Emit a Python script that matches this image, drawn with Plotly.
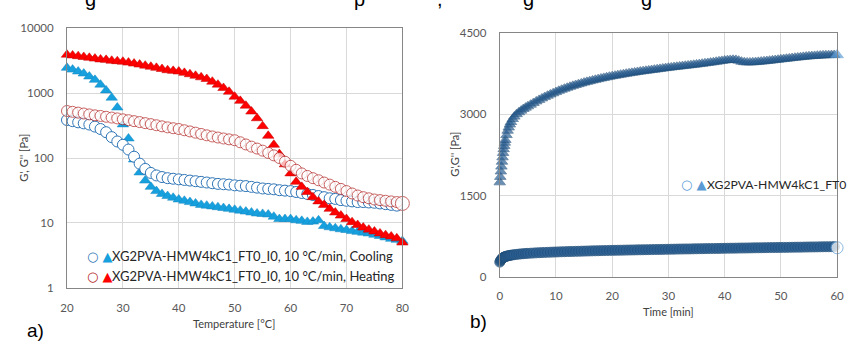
import plotly.graph_objects as go

# ---------------- data: a) temperature sweep ----------------
temp_c = [20, 21, 22, 23, 24, 25, 26, 27, 28, 29, 30, 31, 32, 33, 34, 35, 36, 37, 38, 39,
          40, 41, 42, 43, 44, 45, 46, 47, 48, 49, 50, 51, 52, 53, 54, 55, 56, 57, 58, 59,
          60, 61, 62, 63, 64, 65, 66, 67, 68, 69, 70, 71, 72, 73, 74, 75, 76, 77, 78, 79, 80]

cool_gp = [2450, 2300, 2150, 2000, 1800, 1600, 1350, 1100, 850, 600, 330, 200, 95, 60, 45, 36, 31, 28, 26, 24.5,
           23, 22, 21, 20, 19, 18.5, 18, 17.5, 17, 16.5, 16, 15.5, 15, 14.5, 14, 13.8, 13.5, 12.5, 11.5, 11.5,
           11.5, 11, 10.8, 10.4, 10.5, 11, 9, 8.6, 8.3, 8, 7.8, 7.5, 7.3, 7.1, 6.9, 6.6, 6.3, 6, 5.7, 5.5, 5.3]

cool_gpp = [385, 370, 355, 342, 328, 305, 280, 250, 210, 180, 160, 135, 105, 82, 68, 59, 54, 51, 49, 48,
            47, 46, 45, 44, 43, 42, 41, 40, 39.5, 39, 38, 37.5, 37, 36, 35, 34, 33.5, 33, 32, 31.5,
            31, 30, 29, 28, 27, 26, 25, 24, 23.5, 22.5, 22, 21.5, 21, 21, 20.7, 20.5, 20, 19.5, 19, 18.5, 18]

heat_gp = [3900, 3800, 3700, 3600, 3500, 3400, 3300, 3250, 3150, 3100, 3050, 2950, 2850, 2750, 2650, 2550, 2450, 2350, 2250, 2200,
           2150, 2050, 1950, 1850, 1750, 1650, 1500, 1350, 1200, 1050, 880, 760, 640, 520, 410, 310, 220, 160, 115, 80,
           58, 43, 36, 30, 25, 21.5, 19, 16.5, 14.5, 13, 11.5, 10.3, 9.3, 8.5, 7.9, 7.4, 6.9, 6.5, 6.2, 5.8, 5]

heat_gpp = [530, 515, 500, 485, 470, 455, 445, 432, 420, 408, 395, 383, 370, 358, 345, 333, 320, 308, 297, 288,
            280, 268, 257, 246, 235, 224, 215, 207, 200, 194, 188, 175, 162, 150, 140, 130, 120, 110, 100, 88,
            76, 66, 58, 53, 49, 45.5, 42, 39, 36, 33.5, 31, 28.5, 26.5, 25, 24, 23, 22.5, 22, 21.5, 21, 20]

temp_ticks = [20, 30, 40, 50, 60, 70, 80]
mod_ticks_log = [1, 10, 100, 1000, 10000]

# ---------------- data: b) time sweep ----------------
time_min = [0, 0.1, 0.2, 0.3, 0.4, 0.5, 0.6, 0.7, 0.8, 0.9, 1.0, 1.2, 1.4, 1.6, 1.8, 2.0, 2.3, 2.6, 3.0, 3.4,
            3.8, 4.2, 4.6, 5.0, 5.5, 6, 6.5, 7, 7.5, 8, 8.5, 9, 9.5, 10,
            10.5, 11, 11.5, 12, 12.5, 13, 13.5, 14, 14.5, 15, 15.5, 16, 16.5, 17, 17.5, 18, 18.5, 19, 19.5, 20,
            20.5, 21, 21.5, 22, 22.5, 23, 23.5, 24, 24.5, 25, 25.5, 26, 26.5, 27, 27.5, 28, 28.5, 29, 29.5, 30,
            30.5, 31, 31.5, 32, 32.5, 33, 33.5, 34, 34.5, 35, 35.5, 36, 36.5, 37, 37.5, 38, 38.5, 39, 39.5, 40,
            40.5, 41, 41.5, 42, 42.5, 43, 43.5, 44, 44.5, 45, 45.5, 46, 46.5, 47, 47.5, 48, 48.5, 49, 49.5, 50,
            50.5, 51, 51.5, 52, 52.5, 53, 53.5, 54, 54.5, 55, 55.5, 56, 56.5, 57, 57.5, 58, 58.5, 59, 59.5, 60]

gp_time = [1750, 1850, 1950, 2040, 2130, 2210, 2290, 2360, 2420, 2480, 2530, 2620, 2700, 2760, 2815, 2860, 2915, 2960, 3005, 3040,
           3070, 3100, 3125, 3150, 3180, 3210, 3240, 3268, 3295, 3320, 3345, 3368, 3390, 3412,
           3435, 3455, 3474, 3492, 3509, 3526, 3542, 3557, 3572, 3586, 3600, 3613, 3626, 3638, 3650, 3662, 3673, 3684, 3695, 3705,
           3714, 3723, 3732, 3741, 3750, 3758, 3766, 3774, 3782, 3790, 3797, 3804, 3811, 3818, 3825, 3832, 3839, 3846, 3853, 3860,
           3866, 3872, 3878, 3884, 3890, 3896, 3902, 3908, 3914, 3920, 3927, 3934, 3941, 3948, 3955, 3962, 3970, 3978, 3986, 3994,
           4000, 4004, 4006, 4004, 3990, 3972, 3962, 3958, 3958, 3960, 3964, 3968, 3973, 3978, 3984, 3990, 3996, 4002, 4008, 4014,
           4020, 4026, 4032, 4038, 4044, 4050, 4055, 4060, 4065, 4070, 4074, 4078, 4082, 4085, 4088, 4090, 4092, 4093, 4094, 4095]

gpp_time = [280, 300, 318, 333, 345, 355, 362, 368, 373, 378, 382, 389, 395, 400, 404, 408, 413, 418, 423, 428,
            432, 436, 439, 442, 445, 448, 451, 454, 456, 459, 461, 463, 465, 467,
            469, 471, 472, 474, 476, 477, 479, 480, 482, 483, 485, 486, 488, 489, 490, 492, 493, 494, 496, 497,
            498, 499, 500, 501, 502, 503, 504, 505, 506, 507, 508, 509, 510, 511, 512, 513, 514, 515, 516, 517,
            518, 519, 520, 521, 522, 523, 523, 524, 525, 526, 527, 528, 529, 530, 530, 531, 532, 533, 534, 535,
            536, 537, 537, 538, 539, 540, 540, 541, 542, 543, 544, 544, 545, 546, 547, 548, 548, 549, 550, 551,
            552, 552, 553, 554, 555, 556, 556, 557, 558, 559, 560, 560, 561, 562, 563, 564, 564, 565, 566, 545]

time_ticks = [0, 10, 20, 30, 40, 50, 60]
mod_ticks_lin = [0, 1500, 3000, 4500]

# ---------------- styling ----------------
W, H = 849, 343
TICK_FONT = dict(family="Lato, 'Open Sans', sans-serif", size=11.5, color="#595959")
TITLE_FONT = dict(family="Lato, 'Open Sans', sans-serif", size=11, color="#404040")
LEG_FONT_A = dict(family="Lato, 'Open Sans', sans-serif", size=13, color="#262626")
LEG_FONT_B = dict(family="Lato, 'Open Sans', sans-serif", size=12.2, color="#262626")
GRID = "#D9D9D9"
FRAME = "#868686"

C_COOL_CIRC = "#2E75B6"
C_COOL_TRI = "#16A0DE"
C_HEAT_CIRC = "#B22222"
C_HEAT_TRI = "#FF0000"
C_B_FILL = "#2B5F93"
C_B_EDGE = "#1F4E79"
C_B_LIGHT = "#5B9BD5"


def px(x):
    return x / W


def py(y):
    return 1 - y / H


fig = go.Figure()

# a) traces
fig.add_trace(go.Scatter(x=temp_c, y=cool_gp, mode="markers", xaxis="x", yaxis="y",
                         marker=dict(symbol="triangle-up", size=10, color=C_COOL_TRI,
                                     line=dict(color="#1689C0", width=0.5)),
                         cliponaxis=False, showlegend=False))
fig.add_trace(go.Scatter(x=temp_c[:-1], y=cool_gpp[:-1], mode="markers", xaxis="x", yaxis="y",
                         marker=dict(symbol="circle", size=11, color="white",
                                     line=dict(color=C_COOL_CIRC, width=1)),
                         cliponaxis=False, showlegend=False))
fig.add_trace(go.Scatter(x=temp_c, y=heat_gp, mode="markers", xaxis="x", yaxis="y",
                         marker=dict(symbol="triangle-up", size=10, color=C_HEAT_TRI,
                                     line=dict(color="#C00000", width=0.5)),
                         cliponaxis=False, showlegend=False))
n_h = len(heat_gpp)
fig.add_trace(go.Scatter(x=temp_c, y=heat_gpp, mode="markers", xaxis="x", yaxis="y",
                         marker=dict(symbol="circle",
                                     size=[11] * (n_h - 1) + [14],
                                     color="white",
                                     line=dict(color=C_HEAT_CIRC, width=1)),
                         cliponaxis=False, showlegend=False))

# b) traces
n_t = len(time_min)
fig.add_trace(go.Scatter(x=time_min, y=gpp_time, mode="markers", xaxis="x2", yaxis="y2",
                         marker=dict(symbol="circle",
                                     size=[10] * (n_t - 1) + [12],
                                     color=[C_B_FILL] * (n_t - 1) + ["white"],
                                     line=dict(color=[C_B_EDGE] * (n_t - 1) + [C_B_LIGHT], width=1)),
                         cliponaxis=False, showlegend=False))
fig.add_trace(go.Scatter(x=time_min, y=gp_time, mode="markers", xaxis="x2", yaxis="y2",
                         marker=dict(symbol="triangle-up",
                                     size=[10] * (n_t - 1) + [11],
                                     color=[C_B_FILL] * (n_t - 1) + [C_B_LIGHT],
                                     line=dict(color=[C_B_EDGE] * (n_t - 1) + [C_B_LIGHT], width=0.8)),
                         cliponaxis=False, showlegend=False))

axis_common = dict(showgrid=True, gridcolor=GRID, gridwidth=1, zeroline=False,
                   showline=True, linecolor=FRAME, linewidth=1, mirror=True,
                   ticks="", tickfont=TICK_FONT, ticklabeloverflow="allow")

fig.update_layout(
    width=W, height=H,
    margin=dict(l=0, r=0, t=0, b=0),
    paper_bgcolor="white", plot_bgcolor="white",
    showlegend=False, hovermode=False,
    xaxis=dict(domain=[px(61), px(402)], range=[20, 80], tickvals=temp_ticks,
               anchor="y", ticklabelstandoff=9, **axis_common),
    yaxis=dict(domain=[py(292), py(22)], type="log", range=[0, 4], tickvals=mod_ticks_log,
               ticktext=[str(v) for v in mod_ticks_log], anchor="x",
               ticklabelstandoff=10, **axis_common),
    xaxis2=dict(domain=[px(501), px(844)], range=[0, 60], tickvals=time_ticks,
                anchor="y2", ticklabelstandoff=8, **axis_common),
    yaxis2=dict(domain=[py(281), py(27)], range=[0, 4500], tickvals=mod_ticks_lin,
                anchor="x2", ticklabelstandoff=10, **axis_common),
)

ann = []
# axis titles
ann.append(dict(text="Temperature [°C]", x=px(231), y=py(329), xref="paper", yref="paper",
                showarrow=False, font=TITLE_FONT, xanchor="center", yanchor="middle"))
ann.append(dict(text="G', G'' [Pa]", x=px(16), y=py(157), xref="paper", yref="paper",
                showarrow=False, font=TITLE_FONT, textangle=-90, xanchor="center", yanchor="middle"))
ann.append(dict(text="Time [min]", x=px(673), y=py(317), xref="paper", yref="paper",
                showarrow=False, font=TITLE_FONT, xanchor="center", yanchor="middle"))
ann.append(dict(text="G',G'' [Pa]", x=px(455), y=py(153), xref="paper", yref="paper",
                showarrow=False, font=TITLE_FONT, textangle=-90, xanchor="center", yanchor="middle"))

# panel labels
PANEL_FONT = dict(family="Liberation Sans, Arial, sans-serif", size=19, color="#000000")
ann.append(dict(text="a)", x=px(18), y=py(336), xref="paper", yref="paper",
                showarrow=False, font=PANEL_FONT, xanchor="left", yanchor="middle"))
ann.append(dict(text="b)", x=px(469), y=py(327), xref="paper", yref="paper",
                showarrow=False, font=PANEL_FONT, xanchor="left", yanchor="middle"))

# legends (symbol + text)
SYM_FONT = dict(family="DejaVu Sans, sans-serif", size=13)
ann.append(dict(text="<span style='color:%s'>○</span> <span style='color:%s'>▲</span>" % (C_COOL_CIRC, C_COOL_TRI),
                x=px(79), y=py(259), xref="paper", yref="paper", showarrow=False,
                font=SYM_FONT, xanchor="left", yanchor="middle"))
ann.append(dict(text="XG2PVA-HMW4kC1_FT0_I0, 10 °C/min, Cooling",
                x=px(105), y=py(259), xref="paper", yref="paper", showarrow=False,
                font=LEG_FONT_A, xanchor="left", yanchor="middle"))
ann.append(dict(text="<span style='color:%s'>○</span> <span style='color:%s'>▲</span>" % (C_HEAT_CIRC, C_HEAT_TRI),
                x=px(79), y=py(280), xref="paper", yref="paper", showarrow=False,
                font=SYM_FONT, xanchor="left", yanchor="middle"))
ann.append(dict(text="XG2PVA-HMW4kC1_FT0_I0, 10 °C/min, Heating",
                x=px(105), y=py(280), xref="paper", yref="paper", showarrow=False,
                font=LEG_FONT_A, xanchor="left", yanchor="middle"))
ann.append(dict(text="<span style='color:%s'>○</span> <span style='color:%s'>▲</span>" % (C_B_LIGHT, C_B_LIGHT),
                x=px(683), y=py(185), xref="paper", yref="paper", showarrow=False,
                font=SYM_FONT, xanchor="left", yanchor="middle"))
ann.append(dict(text="XG2PVA-HMW4kC1_FT0",
                x=px(710), y=py(185), xref="paper", yref="paper", showarrow=False,
                font=LEG_FONT_B, xanchor="left", yanchor="middle"))

# clipped caption line at the very top (only descenders visible)
CAP_FONT = dict(family="Liberation Sans, Arial, sans-serif", size=20, color="#000000")
for ch, xx in [("g", 85), ("p", 358), (",", 440), ("g", 530), ("g", 650)]:
    ann.append(dict(text=ch, x=px(xx), y=py(5), xref="paper", yref="paper", showarrow=False,
                    font=CAP_FONT, xanchor="center", yanchor="bottom"))

fig.update_layout(annotations=ann)

fig.write_html("out.html",
               config={"displayModeBar": False, "staticPlot": True},
               post_script="document.body.style.margin='0';document.body.style.overflow='hidden';")
